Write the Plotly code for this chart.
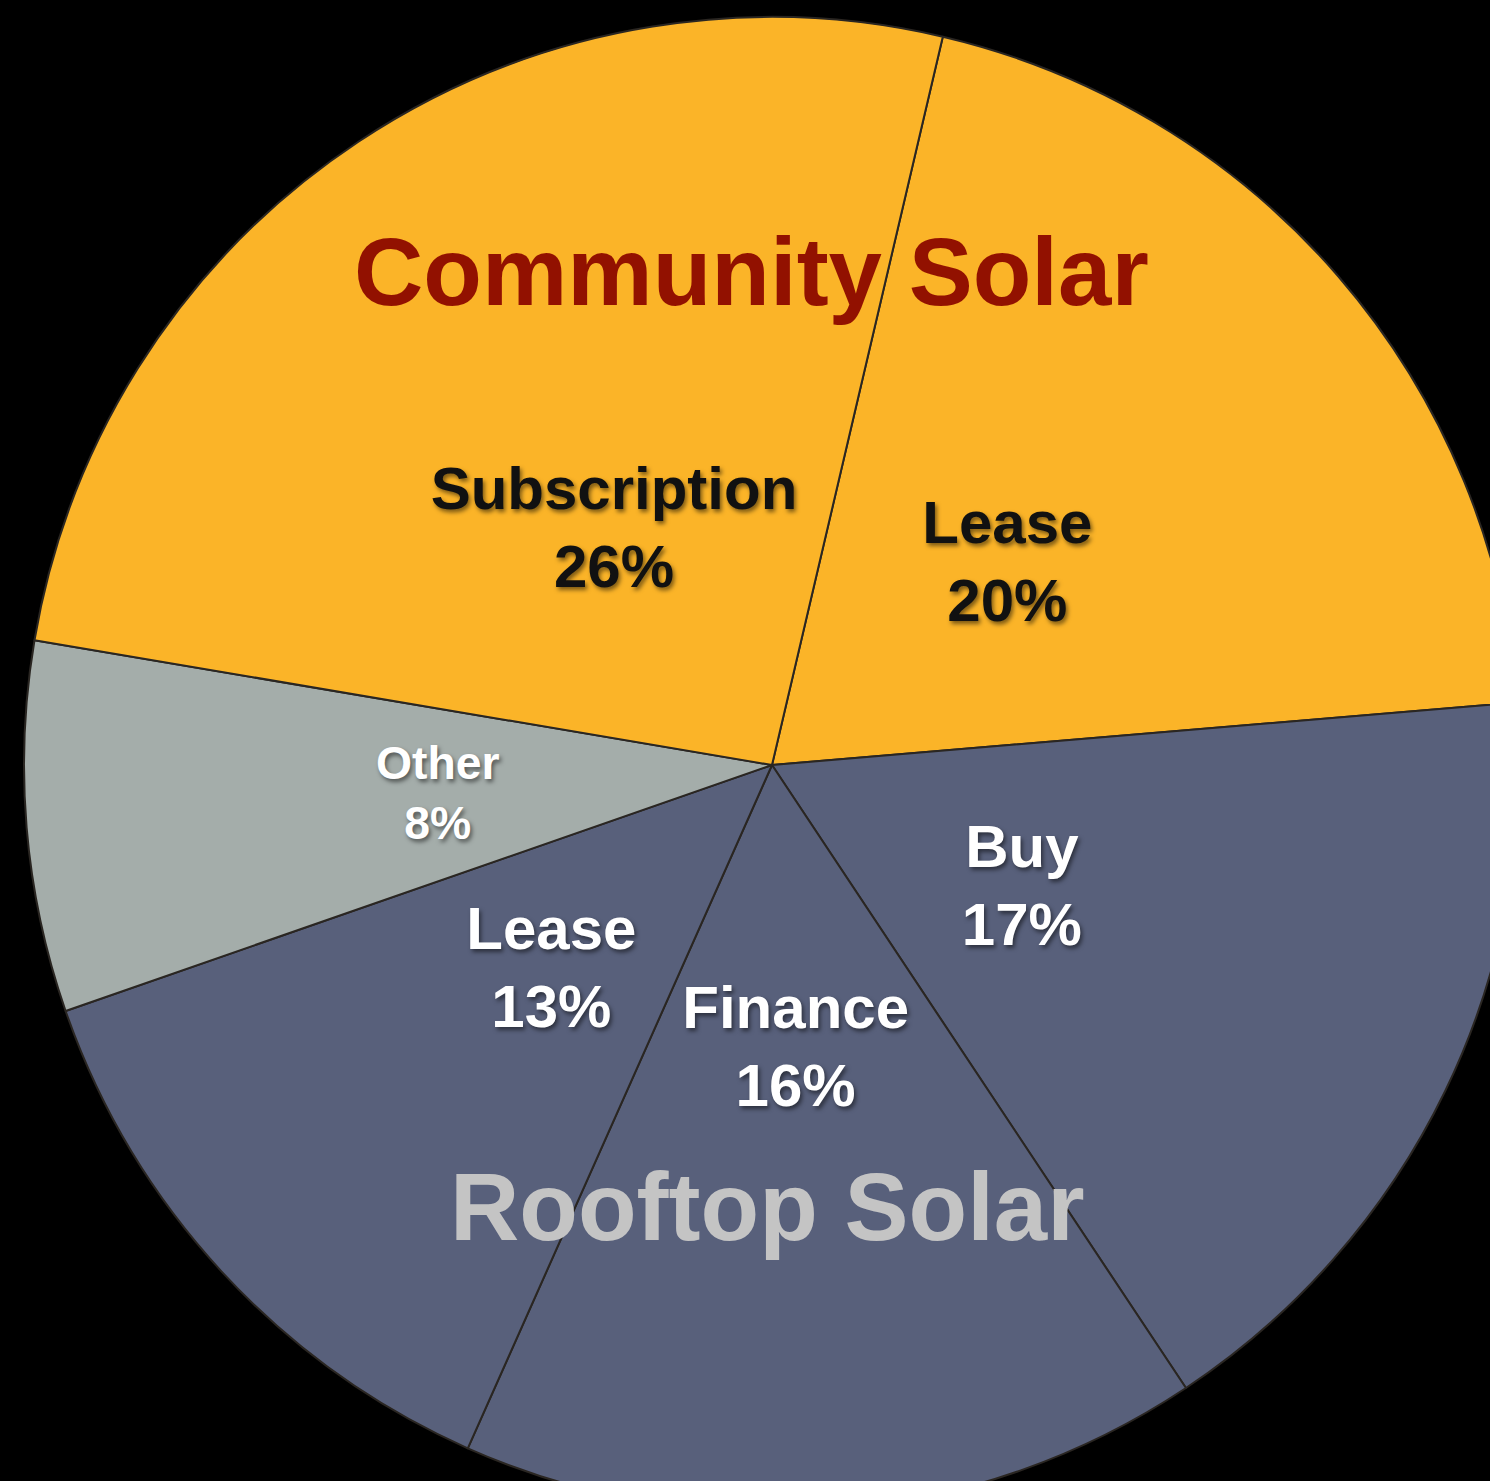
import plotly.graph_objects as go

# slices, clockwise from the Community/Lease edge near 12 o'clock
segments = [
    "Community Lease",
    "Rooftop Buy",
    "Rooftop Finance",
    "Rooftop Lease",
    "Other",
    "Community Subscription",
]
slice_names = ["Lease", "Buy", "Finance", "Lease", "Other", "Subscription"]
shares = [20, 17, 16, 13, 8, 26]
groups = ["community", "rooftop", "rooftop", "rooftop", "other", "community"]

group_titles = ["Community Solar", "Rooftop Solar"]

fill = {"community": "#FBB428", "rooftop": "#58607B", "other": "#A4ADAA"}
text_colour = {"community": "#111111", "rooftop": "#FFFFFF", "other": "#FFFFFF"}

# the photo crops the pie, so the figure is a bit larger than the window
R = 748
PAD_L, PAD_T = 24, 17
W, H = PAD_L + 2 * R, PAD_T + 2 * R
font_family = "Liberation Sans, Arial, sans-serif"
start_angle = 13.2

fig = go.Figure()

# the pie itself
fig.add_trace(
    go.Pie(
        labels=segments,
        values=shares,
        sort=False,
        direction="clockwise",
        rotation=start_angle,
        marker={
            "colors": [fill[g] for g in groups],
            "line": {"color": "#2a2622", "width": 2},
        },
        textinfo="none",
        hoverinfo="label+percent",
        showlegend=False,
        domain={"x": [0, 1], "y": [0, 1]},
    )
)


def label_pie(keep, scale):
    # transparent copy of the pie, smaller, that only carries slice labels
    txt = [n if g in keep else "" for n, g in zip(slice_names, groups)]
    tmpl = ["%{text}<br>%{value}%" if g in keep else "" for g in groups]
    h = scale / 2
    return go.Pie(
        labels=segments,
        values=shares,
        text=txt,
        sort=False,
        direction="clockwise",
        rotation=start_angle,
        marker={"colors": ["rgba(0,0,0,0)"] * len(shares), "line": {"width": 0}},
        texttemplate=tmpl,
        textposition="inside",
        insidetextorientation="horizontal",
        textfont={
            "family": font_family,
            "size": 60,
            "weight": "bold",
            "color": [text_colour[g] for g in groups],
            "shadow": "2px 3px 4px rgba(0,0,0,0.5)",
        },
        hoverinfo="skip",
        showlegend=False,
        domain={"x": [0.5 - h, 0.5 + h], "y": [0.5 - h, 0.5 + h]},
    )


fig.add_trace(label_pie(["community"], 0.66))
fig.add_trace(label_pie(["rooftop", "other"], 0.56))


def title(text, px, py, colour):
    return {
        "text": text,
        "x": (px - PAD_L) / (W - PAD_L),
        "y": 1 - (py - PAD_T) / (H - PAD_T),
        "xref": "paper",
        "yref": "paper",
        "showarrow": False,
        "xanchor": "center",
        "yanchor": "middle",
        "font": {"family": font_family, "size": 96, "weight": "bold", "color": colour},
    }


fig.update_layout(
    width=W,
    height=H,
    margin={"l": PAD_L, "r": 0, "t": PAD_T, "b": 0},
    paper_bgcolor="#000000",
    plot_bgcolor="#000000",
    font={"family": font_family},
    annotations=[
        title(group_titles[0], 751, 272, "#921100"),
        title(group_titles[1], 767, 1206, "#C4C4C4"),
    ],
)

fig.write_html(
    "out.html",
    config={"displayModeBar": False},
    post_script="document.body.style.margin='0';document.body.style.overflow='hidden';"
    "document.body.style.background='#000';",
)
